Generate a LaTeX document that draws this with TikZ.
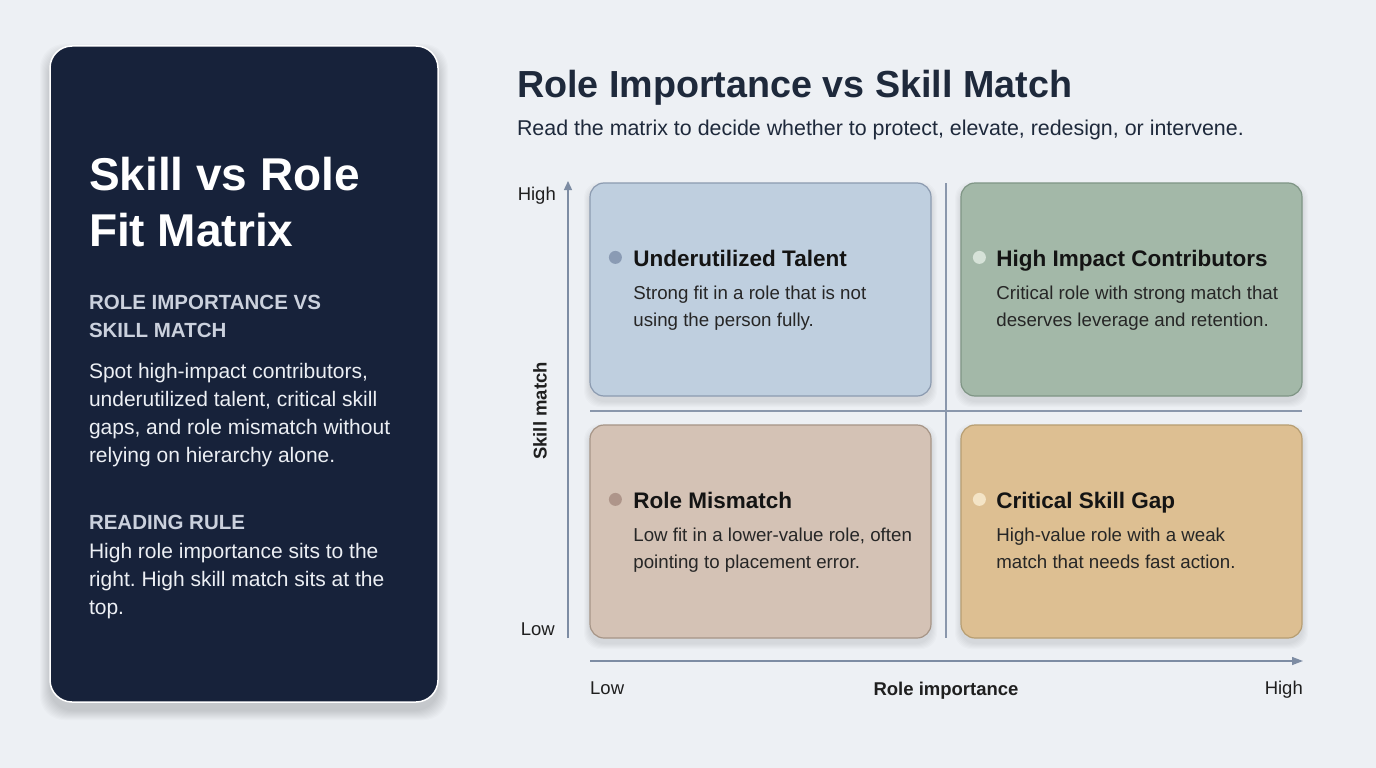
\documentclass[tikz,border=0pt]{standalone}
\usepackage{fontspec}
\setmainfont{Liberation Sans}
\frenchspacing
\usetikzlibrary{arrows.meta,calc}
\definecolor{bg}{HTML}{EDF0F4}
\definecolor{panel}{HTML}{17223A}
\definecolor{panelsub}{HTML}{CBD1DD}
\definecolor{panelbody}{HTML}{ECEFF4}
\definecolor{ink}{HTML}{1E293B}
\definecolor{axis}{HTML}{7D8CA3}
\definecolor{qblue}{HTML}{BFCFDF}\definecolor{qblueb}{HTML}{8C9BB0}\definecolor{qbluedot}{HTML}{8A9BB4}
\definecolor{qgreen}{HTML}{A3B8A8}\definecolor{qgreenb}{HTML}{7F9585}\definecolor{qgreendot}{HTML}{D6E2D8}
\definecolor{qtan}{HTML}{D4C2B5}\definecolor{qtanb}{HTML}{A69587}\definecolor{qtandot}{HTML}{AE958A}
\definecolor{qgold}{HTML}{DDBF92}\definecolor{qgoldb}{HTML}{B79E72}\definecolor{qgolddot}{HTML}{F4E4C6}
\tikzset{
  txt/.style={anchor=base west,inner sep=0pt,outer sep=0pt},
  quad/.style={draw=#1b,fill=#1,line width=1.2pt,rounded corners=14pt,minimum width=341pt,minimum height=213pt,inner sep=0pt},
  qhead/.style={txt,font=\fontsize{22.5}{27}\selectfont\bfseries,text=black!92},
  qdesc/.style={txt,font=\fontsize{18.7}{27}\selectfont,text=black!85,align=left},
  axisline/.style={draw=axis,line width=1.3pt},
  axislbl/.style={inner sep=0pt,font=\fontsize{18.5}{22}\selectfont,text=black!88},
  divider/.style={draw=axis!90,line width=1.2pt},
}
\begin{document}
\begin{tikzpicture}[x=1pt,y=-1pt]
\fill[bg] (0,0) rectangle (1376,768);
\useasboundingbox (0,0) rectangle (1376,768);
% panel shadow
\foreach \i in {1,...,10}{
  \fill[black,opacity=0.016,rounded corners=24pt] (50-\i,46-\i+8) rectangle (438+\i,702+\i+8);
}
\node[draw=white,line width=1.5pt,fill=panel,rounded corners=22pt,minimum width=388pt,minimum height=656pt,inner sep=0pt] (panel) at (244,374) {};
% multi-line nodes: anchor at baseline of last line
\node[txt,font=\fontsize{46}{56}\selectfont\bfseries,text=white,align=left] (ptitle) at (89,246) {Skill vs Role\\Fit Matrix};
\node[txt,font=\fontsize{20.5}{28}\selectfont\bfseries,text=panelsub,align=left] (psub) at (89,337) {ROLE IMPORTANCE VS\\SKILL MATCH};
\node[txt,font=\fontsize{21}{28}\selectfont,text=panelbody,align=left] (pbody) at (89,462) {Spot high-impact contributors,\\underutilized talent, critical skill\\gaps, and role mismatch without\\relying on hierarchy alone.};
\node[txt,font=\fontsize{20.5}{28}\selectfont\bfseries,text=panelsub] (prule) at (89,529) {READING RULE};
\node[txt,font=\fontsize{21}{28}\selectfont,text=panelbody,align=left] (prulebody) at (89,614) {High role importance sits to the\\right. High skill match sits at the\\top.};
% right header
\node[txt,font=\fontsize{37.7}{44}\selectfont\bfseries,text=ink] (title) at (517,97) {Role Importance vs Skill Match};
\node[txt,font=\fontsize{21.4}{25}\selectfont,text=ink] (subtitle) at (517,135) {Read the matrix to decide whether to protect, elevate, redesign, or intervene.};
% quadrant shadows
\foreach \cx/\cy in {760.5/289.5,1131.5/289.5,760.5/531.5,1131.5/531.5}{
  \foreach \i in {1,...,6}{
    \fill[black,opacity=0.014,rounded corners=16pt] (\cx-170.5-\i,\cy-106.5-\i+5) rectangle (\cx+170.5+\i,\cy+106.5+\i+5);
  }
}
% dividers
\coordinate (vtop) at (946,183); \coordinate (vbot) at (946,638);
\coordinate (hl) at (590,411); \coordinate (hr) at (1302,411);
\draw[divider] (vtop) -- (vbot);
\draw[divider] (hl) -- (hr);
% quadrants
\node[quad=qblue] (tl) at (760.5,289.5) {};
\node[quad=qgreen] (tr) at (1131.5,289.5) {};
\node[quad=qtan] (bl) at (760.5,531.5) {};
\node[quad=qgold] (br) at (1131.5,531.5) {};
% quadrant contents
\fill[qbluedot] ($(tl.north west)+(26,75)$) circle (6.5pt);
\node[qhead] (tlh) at ($(tl.north west)+(44,84)$) {Underutilized Talent};
\node[qdesc] (tld) at ($(tl.north west)+(44,144)$) {Strong fit in a role that is not\\using the person fully.};
\fill[qgreendot] ($(tr.north west)+(19,75)$) circle (6.5pt);
\node[qhead] (trh) at ($(tr.north west)+(36,84)$) {High Impact Contributors};
\node[qdesc] (trd) at ($(tr.north west)+(36,144)$) {Critical role with strong match that\\deserves leverage and retention.};
\fill[qtandot] ($(bl.north west)+(26,75)$) circle (6.5pt);
\node[qhead] (blh) at ($(bl.north west)+(44,84)$) {Role Mismatch};
\node[qdesc] (bld) at ($(bl.north west)+(44,144)$) {Low fit in a lower-value role, often\\pointing to placement error.};
\fill[qgolddot] ($(br.north west)+(19,75)$) circle (6.5pt);
\node[qhead] (brh) at ($(br.north west)+(36,84)$) {Critical Skill Gap};
\node[qdesc] (brd) at ($(br.north west)+(36,144)$) {High-value role with a weak\\match that needs fast action.};
% axes
\coordinate (yb) at (568,638); \coordinate (yt) at (568,181);
\coordinate (xl) at (590,661); \coordinate (xr) at (1303,661);
\draw[axisline,-{Triangle[length=9pt,width=8pt]}] (yb) -- (yt);
\draw[axisline,-{Triangle[length=11pt,width=8pt]}] (xl) -- (xr);
\node[axislbl,anchor=base east] (yhigh) at (556,200) {High};
\node[axislbl,anchor=base east] (ylow) at (555,635) {Low};
\node[axislbl,anchor=base west] (xlow) at (590,694) {Low};
\node[axislbl,anchor=base east] (xhigh) at (1303,694) {High};
\node[axislbl,font=\fontsize{18.5}{22}\selectfont\bfseries,rotate=90] (ylab) at (540,411) {Skill match};
\node[axislbl,font=\fontsize{18.5}{22}\selectfont\bfseries,anchor=base] (xlab) at (946,695) {Role importance};
\end{tikzpicture}
\end{document}
